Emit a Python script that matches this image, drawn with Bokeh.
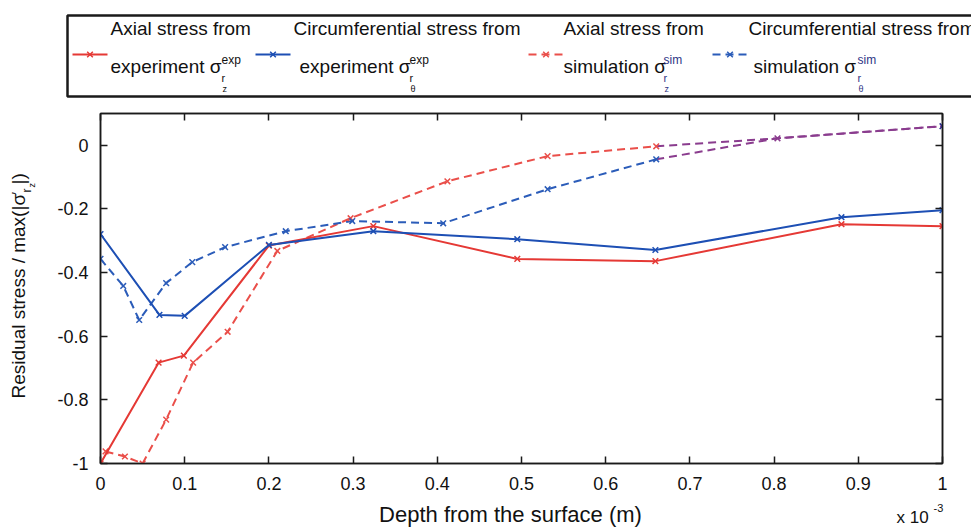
import math

from bokeh.core.properties import value
from bokeh.embed import file_html
from bokeh.layouts import column, row
from bokeh.models import FixedTicker, LinearAxis, Range1d
from bokeh.plotting import figure
from bokeh.resources import INLINE

# ---------------------------------------------------------------- data
# depth below the surface (x 10^-3 m) and normalised residual stress
exp_axial_depth = [0.0, 0.069, 0.099, 0.2, 0.324, 0.495, 0.659, 0.88, 1.0]
exp_axial_stress = [-1.0, -0.683, -0.661, -0.315, -0.254, -0.357, -0.364, -0.248, -0.254]

exp_circ_depth = [0.0, 0.07, 0.1, 0.2, 0.324, 0.495, 0.659, 0.88, 1.0]
exp_circ_stress = [-0.279, -0.533, -0.536, -0.313, -0.27, -0.295, -0.329, -0.226, -0.204]

sim_axial_depth = [0.006, 0.029, 0.05, 0.078, 0.11, 0.151, 0.21, 0.297, 0.412, 0.531, 0.66, 0.804, 1.0]
sim_axial_stress = [-0.962, -0.978, -1.0, -0.862, -0.683, -0.586, -0.332, -0.229, -0.113, -0.034, -0.003, 0.022, 0.06]

sim_circ_depth = [0.0, 0.027, 0.046, 0.078, 0.109, 0.148, 0.22, 0.299, 0.407, 0.531, 0.66, 0.804, 1.0]
sim_circ_stress = [-0.357, -0.442, -0.549, -0.433, -0.367, -0.32, -0.27, -0.238, -0.245, -0.138, -0.044, 0.022, 0.06]

x_ticks = [0, 0.1, 0.2, 0.3, 0.4, 0.5, 0.6, 0.7, 0.8, 0.9, 1.0]
x_tick_labels = ["0", "0.1", "0.2", "0.3", "0.4", "0.5", "0.6", "0.7", "0.8", "0.9", "1"]
y_ticks = [-1.0, -0.8, -0.6, -0.4, -0.2, 0]
y_tick_labels = ["-1", "-0.8", "-0.6", "-0.4", "-0.2", "0"]

legend_line1 = ["Axial stress from", "Circumferential stress from",
                "Axial stress from", "Circumferential stress from"]
legend_line2 = ["experiment σ", "experiment σ", "simulation σ", "simulation σ"]
legend_sup = ["exp", "exp", "sim", "sim"]
legend_sub = ["r", "r", "r", "r"]
legend_subsub = ["z", "θ", "z", "θ"]

x_title = "Depth from the surface (m)"
x_scale_note = ["x 10", "-3"]
y_title = ["Residual stress / max(|σ", "′", "r", "z", "|)"]

# ---------------------------------------------------------------- styles
FONT = "Liberation Sans"
INK = "#111111"
RED = "#e53935"
RED_DASH = "#ea4f4a"
BLUE = "#1d4fb4"
BLUE_DASH = "#2b5cb9"
PURPLE = "#8a3c8e"
NAVY = "#262c8c"
DASH = "8 5"

# page strips: legend 0-100, plot row 100-503, x title 503-528
PLOT_H = 403
BORDER_TOP = 13
BORDER_BOTTOM = 40

# the text glyph sits its line box on the anchor; lift it so the anchor is the baseline
LIFT = 0.4


def lifted(pos, size):
    return pos - LIFT * size


def panel(width, height, xr, yr, **borders):
    """A bare drawing surface (no axes, no grid) used for the text strips."""
    f = figure(width=width, height=height, x_range=Range1d(*xr), y_range=Range1d(*yr),
               output_backend="svg", toolbar_location=None,
               x_axis_location=None, y_axis_location=None, min_border=0, **borders)
    f.grid.visible = False
    f.outline_line_color = None
    if hasattr(f, "frame_align"):
        f.frame_align = False
    return f


txt = dict(text_font=value(FONT), text_baseline="alphabetic", text_align="left")

# ---------------------------------------------------------------- legend strip
leg = panel(971, 100, (0, 971), (100, 0))

leg.quad(left=[67], right=[990], top=[15], bottom=[96], fill_color=None,
         line_color="#1a1a1a", line_width=2.5)

sample_x = [72, 255, 528, 712]
sample_len = 35
sample_y = 54
line1_x = [110, 293, 563, 748]
line2_x = [110, 299, 563, 753]
sup_x = [221, 409, 663, 857]
sample_colors = [RED, BLUE, RED_DASH, BLUE_DASH]
sample_dash = ["solid", "solid", DASH, DASH]
sup_colors = [INK, INK, "#2f3585", "#2f3585"]

for i in range(4):
    x0 = sample_x[i]
    leg.line([x0, x0 + sample_len], [sample_y, sample_y], line_color=sample_colors[i],
             line_width=2, line_dash=sample_dash[i])
    leg.scatter([x0 + sample_len / 2], [sample_y], marker="x", size=8,
                line_color=sample_colors[i], line_width=1.5)

leg.text(line1_x, [lifted(36, 19)] * 4, text=legend_line1, text_font_size=value("19px"),
         text_color=INK, **txt)
leg.text(line2_x, [lifted(74, 19)] * 4, text=legend_line2, text_font_size=value("19px"),
         text_color=INK, **txt)
leg.text(sup_x, [lifted(64, 12)] * 4, text=legend_sup, text_font_size=value("12px"),
         text_color=sup_colors, **txt)
leg.text(sup_x, [lifted(82, 11)] * 4, text=legend_sub, text_font_size=value("11px"),
         text_color=sup_colors, **txt)
leg.text([x + 1 for x in sup_x], [lifted(92, 9)] * 4, text=legend_subsub,
         text_font_size=value("9px"), text_color=sup_colors, **txt)

# ---------------------------------------------------------------- y title strip
ylab = panel(45, PLOT_H, (0, 45), (0, 350),
             min_border_top=BORDER_TOP, min_border_bottom=BORDER_BOTTOM)
y_sizes = [19, 14, 12, 9, 19]
y_base_x = [26, 22, 31, 35, 26]
ylab.text([lifted(x, s) for x, s in zip(y_base_x, y_sizes)], [65, 269, 271, 276, 279],
          text=y_title, text_font_size=[f"{s}px" for s in y_sizes], angle=math.pi / 2,
          text_color=INK, **txt)

# ---------------------------------------------------------------- main plot
p = figure(width=926, height=PLOT_H, x_range=Range1d(0, 1), y_range=Range1d(-1, 0.1),
           output_backend="svg", toolbar_location=None,
           min_border_left=55, min_border_right=29,
           min_border_top=BORDER_TOP, min_border_bottom=BORDER_BOTTOM)
if hasattr(p, "frame_align"):
    p.frame_align = False
p.grid.visible = False
p.outline_line_color = "#1a1a1a"
p.outline_line_width = 1.5

p.add_layout(LinearAxis(), "above")
p.add_layout(LinearAxis(), "right")

for ax in p.xaxis:
    ax.ticker = FixedTicker(ticks=x_ticks)
    ax.major_label_overrides = dict(zip(x_ticks, x_tick_labels))
for ax in p.yaxis:
    ax.ticker = FixedTicker(ticks=y_ticks)
    ax.major_label_overrides = dict(zip(y_ticks, y_tick_labels))

for ax in p.axis:
    ax.axis_line_color = "#1a1a1a"
    ax.axis_line_width = 1.5
    ax.major_tick_line_color = "#1a1a1a"
    ax.major_tick_line_width = 1.5
    ax.major_tick_in = 7
    ax.major_tick_out = 0
    ax.minor_tick_line_color = None
    ax.major_label_text_font = FONT
    ax.major_label_text_font_size = "18px"
    ax.major_label_text_color = INK

p.below[0].major_label_standoff = 13
p.below[0].axis_label_standoff = 0
p.left[0].major_label_standoff = 12
for ax in (p.above[0], p.right[0]):
    ax.major_label_text_color = None
    ax.major_label_standoff = 0

# simulation curves (dashed); the coinciding tails are drawn in a shared tone
tail = sim_axial_depth.index(0.66)
p.line(sim_axial_depth[:tail + 1], sim_axial_stress[:tail + 1], line_color=RED_DASH,
       line_width=2, line_dash=DASH)
p.line(sim_circ_depth[:tail + 1], sim_circ_stress[:tail + 1], line_color=BLUE_DASH,
       line_width=2, line_dash=DASH)
p.line(sim_axial_depth[tail:], sim_axial_stress[tail:], line_color=PURPLE,
       line_width=2, line_dash=DASH)
p.line(sim_circ_depth[tail:], sim_circ_stress[tail:], line_color=PURPLE,
       line_width=2, line_dash=DASH)
p.scatter(sim_axial_depth[:tail + 1], sim_axial_stress[:tail + 1], marker="x", size=8,
          line_color=RED_DASH, line_width=1.5)
p.scatter(sim_circ_depth[:tail + 1], sim_circ_stress[:tail + 1], marker="x", size=8,
          line_color=BLUE_DASH, line_width=1.5)
p.scatter(sim_circ_depth[tail + 1:], sim_circ_stress[tail + 1:], marker="x", size=8,
          line_color=[PURPLE, NAVY], line_width=1.5)

# experimental curves (solid)
p.line(exp_axial_depth, exp_axial_stress, line_color=RED, line_width=2)
p.scatter(exp_axial_depth, exp_axial_stress, marker="x", size=8, line_color=RED, line_width=1.5)
p.line(exp_circ_depth, exp_circ_stress, line_color=BLUE, line_width=2)
p.scatter(exp_circ_depth, exp_circ_stress, marker="x", size=8, line_color=BLUE, line_width=1.5)

# ---------------------------------------------------------------- x title strip
xlab = panel(971, 528 - 100 - PLOT_H, (0, 971), (25, 0))
xlab.text([510], [lifted(20, 22)], text=[x_title], text_font_size=value("22px"),
          text_color=INK, text_font=value(FONT), text_baseline="alphabetic",
          text_align="center")
xlab.text([896, 933], [lifted(21, 17), lifted(9, 11)], text=x_scale_note,
          text_font_size=["17px", "11px"], text_color=INK, **txt)

page = column(leg, row(ylab, p, spacing=0), xlab, spacing=0)
open("out.html", "w").write(file_html(page, INLINE))
